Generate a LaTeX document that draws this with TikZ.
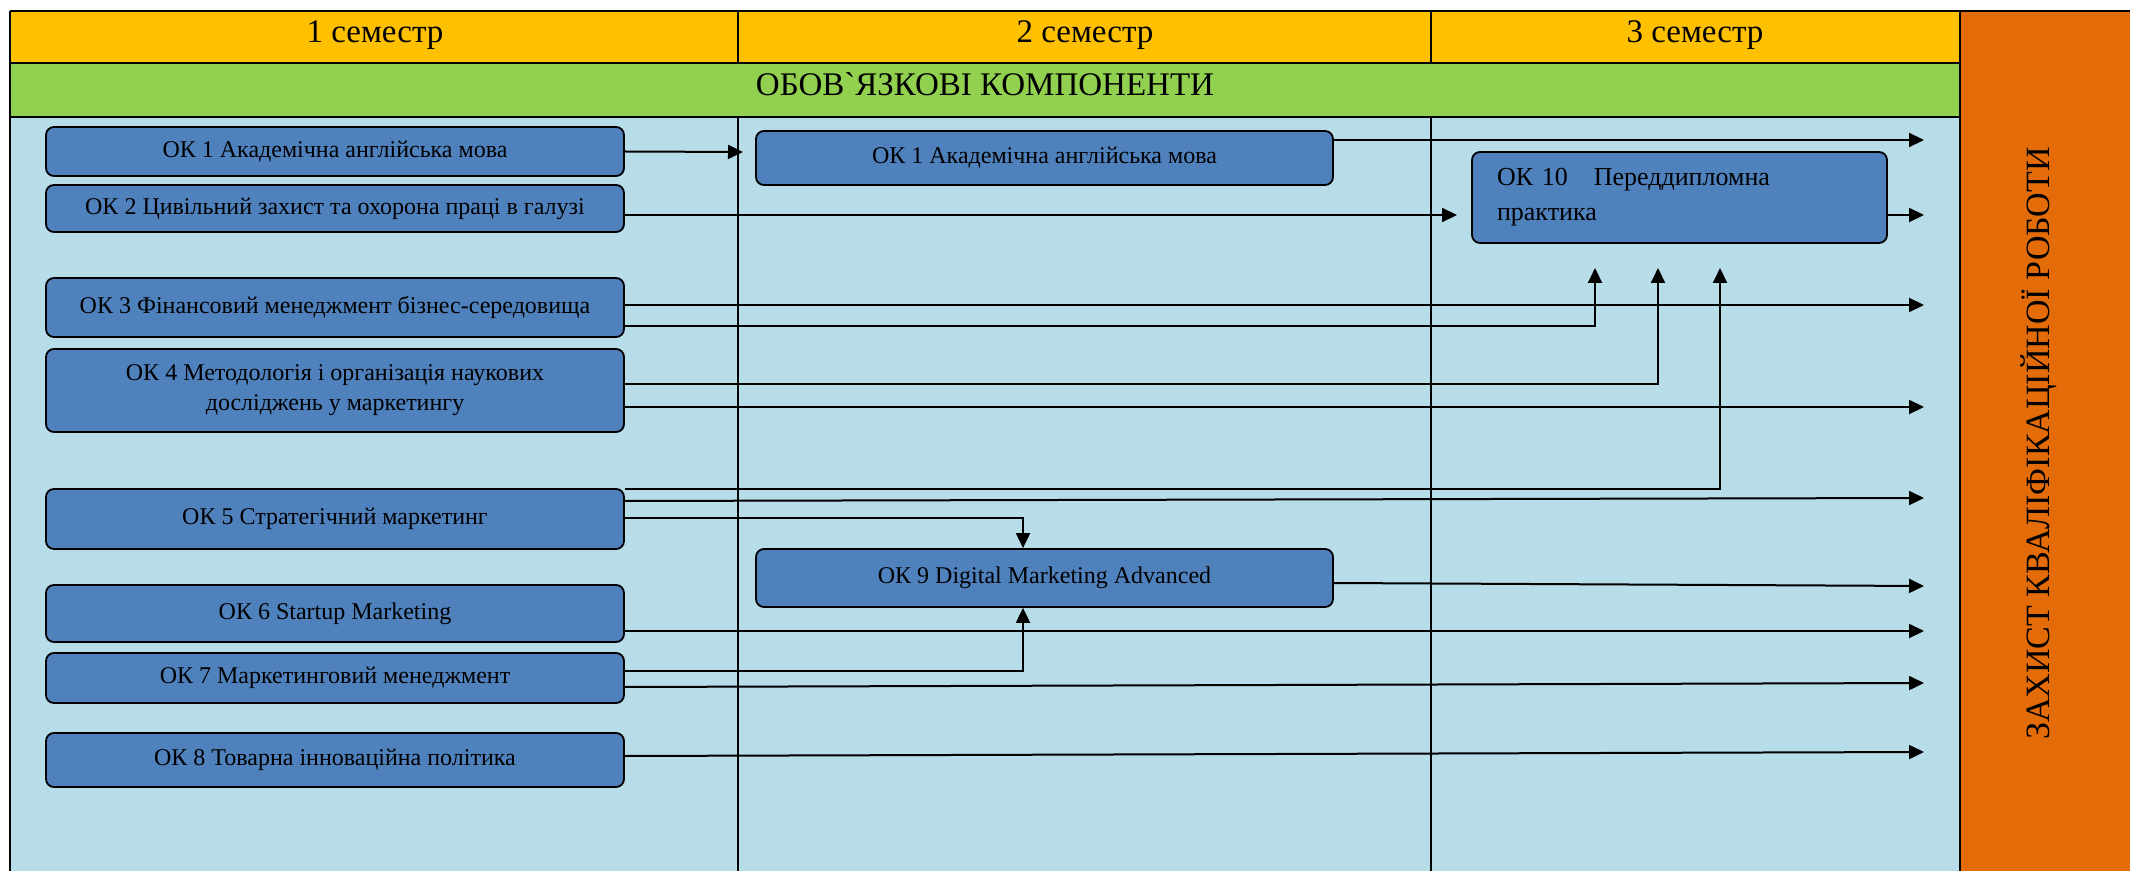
\documentclass[tikz,border=0pt]{standalone}
\usepackage{fontspec}
\setmainfont{Liberation Serif}[Ligatures=TeXOff]
\usetikzlibrary{arrows.meta}
\definecolor{hdr}{RGB}{255,192,0}
\definecolor{grn}{RGB}{146,208,80}
\definecolor{lblue}{RGB}{183,221,232}
\definecolor{boxblue}{RGB}{79,129,189}
\definecolor{orng}{RGB}{227,108,9}
\begin{document}
\begin{tikzpicture}[x=0.5pt,y=-0.5pt,
  frameline/.style={line width=1pt,black},
  okbox/.style={draw=black,line width=0.9pt,fill=boxblue,rounded corners=4pt,inner sep=0pt,font=\fontsize{12}{15}\selectfont,align=center,minimum width=289pt},
  conn/.style={line width=1pt,-{Triangle[length=7.5pt,width=7pt]}},
  hdrtext/.style={font=\fontsize{16.5}{20}\selectfont,anchor=base,inner sep=0pt}]
\useasboundingbox (0,0) rectangle (2130,871);
\fill[white] (0,0) rectangle (2130,871);
% bands
\fill[hdr] (9.6,11) rectangle (1960,63);
\fill[grn] (9.6,63) rectangle (1960,117);
\fill[lblue] (9.6,117) rectangle (1960,871);
\fill[orng] (1960,11) rectangle (2130,871);
% frame lines
\draw[frameline] (9.6,11) -- (2130,11);
\draw[frameline] (9.6,11) -- (9.6,871);
\draw[frameline] (9.6,63) -- (1960,63);
\draw[frameline] (9.6,117) -- (1960,117);
\draw[frameline] (1960,11) -- (1960,871);
\draw[frameline] (738,11) -- (738,63);
\draw[frameline] (738,117) -- (738,871);
\draw[frameline] (1431,11) -- (1431,63);
\draw[frameline] (1431,117) -- (1431,871);
% header texts
\node[hdrtext] (s1) at (375,43) {1 семестр};
\node[hdrtext] (s2) at (1085,43) {2 семестр};
\node[hdrtext] (s3) at (1695,43) {3 семестр};
\node[hdrtext] (obov) at (985,96) {ОБОВ`ЯЗКОВІ КОМПОНЕНТИ};
\node[font=\fontsize{17}{20}\selectfont,rotate=90,anchor=base,inner sep=0pt] (zakh) at (2049,443.5) {ЗАХИСТ КВАЛІФІКАЦІЙНОЇ РОБОТИ};
% boxes semester 1
\node[okbox,minimum height=24.5pt] (ok1) at (335,151.5) {ОК 1 Академічна англійська мова};
\node[okbox,minimum height=23.5pt] (ok2) at (335,208.5) {ОК 2 Цивільний захист та охорона праці в галузі};
\node[okbox,minimum height=29.5pt] (ok3) at (335,307.5) {ОК 3 Фінансовий менеджмент бізнес-середовища};
\node[okbox,minimum height=41.5pt] (ok4) at (335,390.5) {ОК 4 Методологія і організація наукових\\досліджень у маркетингу};
\node[okbox,minimum height=30pt] (ok5) at (335,519) {ОК 5 Стратегічний маркетинг};
\node[okbox,minimum height=28.5pt] (ok6) at (335,613.5) {ОК 6 Startup Marketing};
\node[okbox,minimum height=25pt] (ok7) at (335,678) {ОК 7 Маркетинговий менеджмент};
\node[okbox,minimum height=27pt] (ok8) at (335,760) {ОК 8 Товарна інноваційна політика};
% semester 2
\node[okbox,minimum width=288.5pt,minimum height=27pt] (ok1b) at (1044.5,158) {ОК 1 Академічна англійська мова};
\node[okbox,minimum width=288.5pt,minimum height=29pt] (ok9) at (1044.5,578) {ОК 9 Digital Marketing Advanced};
% semester 3
\node[okbox,minimum width=207.5pt,minimum height=45.5pt,text width=182.5pt,align=left,font=\fontsize{13}{17.5}\selectfont] (ok10) at (1679.5,197.5) {ОК 10\ \ \ Переддипломна\\практика};
% end coordinates
\coordinate (e1) at (743,152);
\coordinate (e2) at (1924,140);
\coordinate (e3) at (1457,215);
\coordinate (e4) at (1924,215);
\coordinate (e5) at (1924,305);
\coordinate (u1) at (1595,268);
\coordinate (u2) at (1658,268);
\coordinate (u3) at (1720,268);
\coordinate (e8) at (1924,407);
\coordinate (e10) at (1924,498);
\coordinate (e12) at (1924,586);
\coordinate (e13) at (1924,631);
\coordinate (e15) at (1924,683);
\coordinate (e16) at (1924,752);
% connectors
\draw[conn] (ok1.east) -- (e1);
\draw[conn] (ok1b.east |- 0,140) -- (e2);
\draw[conn] (ok2.east |- 0,215) -- (e3);
\draw[conn] (ok10.east |- 0,215) -- (e4);
\draw[conn] (ok3.east |- 0,305) -- (e5);
\draw[conn] (ok3.east |- 0,326) -| (u1);
\draw[conn] (ok4.east |- 0,384) -| (u2);
\draw[conn] (ok4.east |- 0,407) -- (e8);
\draw[conn] (ok5.east |- 0,489) -| (u3);
\draw[conn] (ok5.east |- 0,501) -- (e10);
\draw[conn] (ok5.east |- 0,518) -| (ok9.north -| 1023,0);
\draw[conn] (ok9.east |- 0,583) -- (e12);
\draw[conn] (ok6.east |- 0,631) -- (e13);
\draw[conn] (ok7.east |- 0,671) -| (ok9.south -| 1023,0);
\draw[conn] (ok7.east |- 0,687) -- (e15);
\draw[conn] (ok8.east |- 0,756) -- (e16);
\end{tikzpicture}
\end{document}
